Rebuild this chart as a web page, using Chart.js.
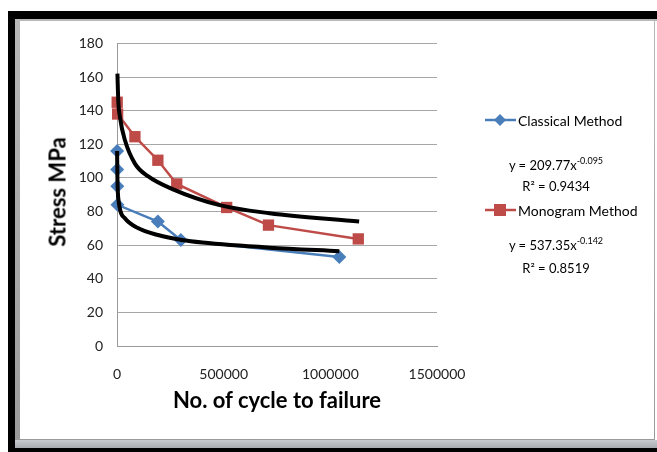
<!DOCTYPE html>
<html>
<head>
<meta charset="utf-8">
<script src="https://cdn.jsdelivr.net/npm/chart.js@4/dist/chart.umd.min.js"></script>
<style>
  body { margin: 0; background: #fff; width: 657px; height: 452px; overflow: hidden; position: relative; font-family: Lato, "Open Sans", sans-serif; }
  .frame { position: absolute; left: 8px; top: 11px; width: 660px; height: 445px; background: #000; }
  .panel { position: absolute; left: 15px; top: 19px; width: 645px; height: 429px; background: linear-gradient(#b8b8b8, #9a9a9a); }
  .inner { position: absolute; left: 20px; top: 21px; width: 634px; height: 418px; background: #fff; }
  .rside { position: absolute; left: 655px; top: 21px; width: 5px; height: 419px; background: #fff; }
  .bar { position: absolute; left: 15px; top: 440px; width: 645px; height: 8px; background: linear-gradient(#c8ccd0, #a8acb0); }
  #wrap { position: absolute; left: 20px; top: 21px; width: 634px; height: 418px; }
  .t { position: absolute; color: #000; white-space: nowrap; }
  .ytitle { left: 57px; top: 192px; font-size: 22px; font-weight: bold; transform: translate(-50%, -50%) rotate(-90deg); }
  .xtitle { left: 277px; top: 399px; font-size: 22px; font-weight: bold; transform: translate(-50%, -50%); }
  .leg { font-size: 14px; transform: translateY(-50%); }
  .eq { font-size: 13px; transform: translate(-50%, -50%); }
  .eq sup { font-size: 9px; }
  .mk { position: absolute; }
</style>
</head>
<body>
<div class="frame"></div>
<div class="panel"></div>
<div class="inner"></div>
<div class="rside"></div>
<div class="bar"></div>
<div id="wrap"><canvas id="grafico" width="634" height="418"></canvas></div>

<div class="t ytitle">Stress MPa</div>
<div class="t xtitle">No. of cycle to failure</div>

<canvas id="legMarks" class="mk" width="60" height="120" style="left:478px;top:100px"></canvas>
<div class="t leg" style="left:518px;top:120px">Classical Method</div>
<div class="t eq" style="left:556px;top:164px">y = 209.77x<sup>-0.095</sup></div>
<div class="t eq" style="left:556px;top:186px">R² = 0.9434</div>
<div class="t leg" style="left:518px;top:210px">Monogram Method</div>
<div class="t eq" style="left:556px;top:244px">y = 537.35x<sup>-0.142</sup></div>
<div class="t eq" style="left:556px;top:268px">R² = 0.8519</div>

<script>
// dados
const ciclosClassico = [500, 1000, 1500, 2000, 191600, 299000, 1042000];
const tensaoClassico = [116, 105, 95, 84, 74, 63, 53];

const ciclosMonograma = [1000, 3000, 84000, 191600, 280000, 514000, 710000, 1131000];
const tensaoMonograma = [145, 138, 124.5, 110.5, 96.4, 82.4, 71.9, 63.7];

// linhas de tendência (potência)
const ciclosTendClassico = [500, 2000, 8000, 37000, 98000, 192000, 304000, 400000, 715000, 1042000];
const tensaoTendClassico = [116, 100, 86, 76, 70.2, 66, 63, 61.5, 58.5, 56.4];

const ciclosTendMonograma = [2000, 6000, 14000, 37000, 84000, 145000, 257000, 481000, 715000, 1135000];
const tensaoTendMonograma = [162, 146, 136, 122.5, 108.5, 101, 93.5, 83.8, 79, 74];

const ticksX = [0, 500000, 1000000, 1500000];

const azul = '#4a7ebb';
const vermelho = '#be4b48';

function pares(xs, ys) {
    return xs.map((x, i) => ({ x: x, y: ys[i] }));
}

const ctx = document.getElementById('grafico').getContext('2d');
new Chart(ctx, {
    type: 'scatter',
    data: {
        datasets: [
            {
                label: 'Tendência Classical',
                data: pares(ciclosTendClassico, tensaoTendClassico),
                showLine: true,
                borderColor: '#000',
                borderWidth: 4,
                pointRadius: 0,
                cubicInterpolationMode: 'monotone',
                clip: false,
                order: 0
            },
            {
                label: 'Tendência Monogram',
                data: pares(ciclosTendMonograma, tensaoTendMonograma),
                showLine: true,
                borderColor: '#000',
                borderWidth: 4,
                pointRadius: 0,
                cubicInterpolationMode: 'monotone',
                clip: false,
                order: 0
            },
            {
                label: 'Classical Method',
                data: pares(ciclosClassico, tensaoClassico),
                showLine: true,
                borderColor: azul,
                backgroundColor: azul,
                borderWidth: 2.5,
                pointStyle: 'rectRot',
                pointRadius: 7,
                pointBorderWidth: 0,
                clip: false,
                order: 1
            },
            {
                label: 'Monogram Method',
                data: pares(ciclosMonograma, tensaoMonograma),
                showLine: true,
                borderColor: vermelho,
                backgroundColor: vermelho,
                borderWidth: 2.5,
                pointStyle: 'rect',
                pointRadius: 8,
                pointBorderWidth: 0,
                clip: false,
                order: 2
            }
        ]
    },
    options: {
        animation: false,
        responsive: false,
        layout: { padding: { left: 0, top: 17, right: 217, bottom: 0 } },
        plugins: {
            legend: { display: false },
            tooltip: { enabled: false }
        },
        scales: {
            x: {
                type: 'linear',
                min: 0,
                max: 1500000,
                afterBuildTicks: scale => { scale.ticks = ticksX.map(v => ({ value: v })); },
                afterFit: scale => { scale.height = 93; },
                grid: { display: false },
                border: { display: true, color: '#9a9a9a', width: 1 },
                ticks: {
                    color: '#222',
                    font: { family: 'Lato', size: 14 },
                    padding: 12,
                    maxRotation: 0,
                    callback: v => String(v)
                }
            },
            y: {
                min: 0,
                max: 180,
                afterFit: scale => { scale.width = 97; },
                grid: { color: '#a6a6a6', lineWidth: 1, drawTicks: false },
                border: { display: true, color: '#9a9a9a', width: 1 },
                ticks: {
                    stepSize: 20,
                    color: '#222',
                    font: { family: 'Lato', size: 14 },
                    padding: 14
                }
            }
        }
    }
});

// marcadores da legenda
const lg = document.getElementById('legMarks').getContext('2d');
function marca(y, cor, forma) {
    lg.strokeStyle = cor;
    lg.lineWidth = 2.5;
    lg.beginPath();
    lg.moveTo(7, y);
    lg.lineTo(38, y);
    lg.stroke();
    lg.fillStyle = cor;
    lg.beginPath();
    if (forma === 'losango') {
        lg.moveTo(22, y - 6); lg.lineTo(28, y); lg.lineTo(22, y + 6); lg.lineTo(16, y);
    } else {
        lg.rect(16, y - 6, 12, 12);
    }
    lg.fill();
}
marca(20, azul, 'losango');
marca(110, vermelho, 'quadrado');
</script>
</body>
</html>
